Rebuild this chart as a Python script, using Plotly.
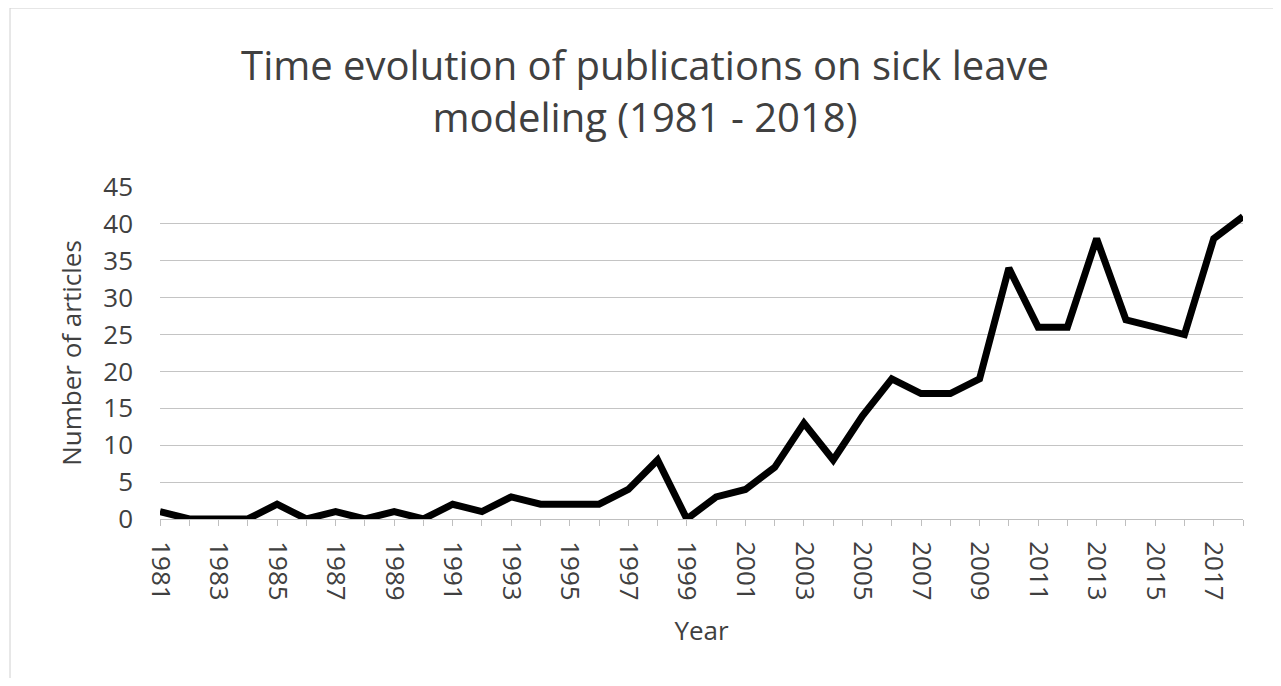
import plotly.graph_objects as go

years = list(range(1981, 2019))
articles = [1, 0, 0, 0, 2, 0, 1, 0, 1, 0,
            2, 1, 3, 2, 2, 2, 4, 8, 0, 3,
            4, 7, 13, 8, 14, 19, 17, 17, 19, 34,
            26, 26, 38, 27, 26, 25, 38, 41]
y_ticks = [0, 5, 10, 15, 20, 25, 30, 35, 40, 45]
title_text = "Time evolution of publications on sick leave<br>modeling (1981 - 2018)"

# page has an 8px body margin; figure sized to fit the 1281x686 window
OFF = 8
W, H = 1281 - 2 * OFF, 686 - 2 * OFF
L = 160 - OFF
T = 187 - OFF
R = W - (1243 - OFF)
B = H - (519 - OFF)
pw, ph = W - L - R, H - T - B

fig = go.Figure()
fig.add_trace(go.Scatter(
    x=years, y=articles, mode="lines",
    line=dict(color="black", width=7, shape="linear"),
    hoverinfo="x+y", showlegend=False,
))

font_family = "Open Sans, Liberation Sans, sans-serif"
txt = "#404040"
fig.update_layout(
    width=W, height=H,
    margin=dict(l=L, r=R, t=T, b=B, autoexpand=False),
    paper_bgcolor="white", plot_bgcolor="white",
    font=dict(family=font_family, color=txt),
    title=dict(text=title_text, x=(645 - OFF) / W, xanchor="center", xref="container",
               y=1 - (80 - OFF) / H, yanchor="middle", yref="container",
               font=dict(size=40, color=txt, family=font_family)),
    xaxis=dict(
        range=[1981, 2018], tick0=1981, dtick=2, tickmode="linear",
        tickangle=90, ticks="outside", ticklen=6, tickcolor="#bfbfbf",
        ticklabelstandoff=10,
        tickfont=dict(size=26, color=txt),
        showgrid=False, zeroline=False,
        showline=True, linecolor="#bfbfbf", linewidth=1,
        minor=dict(dtick=1, tick0=1981, ticks="outside", ticklen=6, tickcolor="#bfbfbf", showgrid=False),
        title=dict(text="Year", font=dict(size=26, color=txt), standoff=22),
    ),
    yaxis=dict(
        range=[0, 45], tickvals=y_ticks, showgrid=True, gridcolor="#c4c4c4", gridwidth=1,
        zeroline=False, showline=False, ticks="",
        ticklabelstandoff=26,
        tickfont=dict(size=26, color=txt),
        title=dict(text="Number of articles", font=dict(size=26, color=txt), standoff=14),
    ),
    shapes=[dict(type="rect", xref="paper", yref="paper",
                 x0=(10 - 160) / pw, x1=(W + 40 - L) / pw,
                 y0=-(B + 40) / ph, y1=(T + OFF - 8) / ph + 1 - 0.0001,
                 line=dict(color="#d0d0d0", width=1), fillcolor="rgba(0,0,0,0)", layer="below")],
)

fig.write_html("out.html")
